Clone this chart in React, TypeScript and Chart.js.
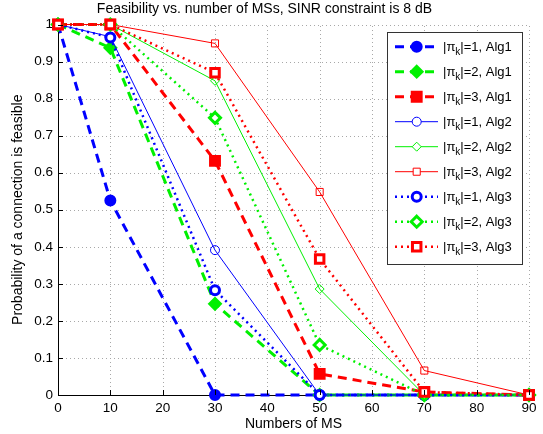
import React, { useEffect, useRef } from "react";
import { Chart, registerables } from "chart.js";

Chart.register(...registerables);

const titleText = "Feasibility vs. number of MSs, SINR constraint is 8 dB";
const xAxisLabel = "Numbers of MS";
const yAxisLabel = "Probability of a connection is feasible";

const numberOfMS = [0, 10, 30, 50, 70, 90];
const xTicks = [0, 10, 20, 30, 40, 50, 60, 70, 80, 90];
const yTicks = [0, 0.1, 0.2, 0.3, 0.4, 0.5, 0.6, 0.7, 0.8, 0.9, 1];

const alg1K1 = [1, 0.525, 0, 0, 0, 0];
const alg1K2 = [1, 0.937, 0.246, 0, 0, 0];
const alg1K3 = [1, 1, 0.632, 0.057, 0.008, 0];
const alg2K1 = [1, 0.967, 0.391, 0, 0, 0];
const alg2K2 = [1, 1, 0.848, 0.286, 0, 0];
const alg2K3 = [1, 1, 0.949, 0.548, 0.066, 0];
const alg3K1 = [1, 0.965, 0.283, 0, 0, 0];
const alg3K2 = [1, 1, 0.748, 0.135, 0, 0];
const alg3K3 = [1, 1, 0.87, 0.367, 0.008, 0];

const seriesValues = [alg1K1, alg1K2, alg1K3, alg2K1, alg2K2, alg2K3, alg3K1, alg3K2, alg3K3];
const seriesK = [1, 2, 3, 1, 2, 3, 1, 2, 3];
const seriesAlg = ["Alg1", "Alg1", "Alg1", "Alg2", "Alg2", "Alg2", "Alg3", "Alg3", "Alg3"];

const FONT = "'Liberation Sans', Arial, Helvetica, sans-serif";
const colorByK: Record<number, string> = { 1: "#0000ff", 2: "#00f000", 3: "#ff0000" };
const markerByK: Record<number, string> = { 1: "circle", 2: "rectRot", 3: "rect" };

function styleFor(alg: string, k: number) {
  const color = colorByK[k];
  const pointStyle = markerByK[k];
  if (alg === "Alg1") {
    return {
      borderWidth: 3,
      borderDash: [9, 6],
      pointRadius: k === 3 ? 7 : k === 2 ? 6 : 5,
      pointBorderWidth: 2,
      pointBackgroundColor: color,
      color,
      pointStyle,
    };
  }
  if (alg === "Alg2") {
    return {
      borderWidth: 1,
      borderDash: [] as number[],
      pointRadius: k === 3 ? 5 : 4.5,
      pointBorderWidth: 1,
      pointBackgroundColor: "rgba(255,255,255,0)",
      color,
      pointStyle,
    };
  }
  return {
    borderWidth: 2.5,
    borderDash: [2, 4],
    pointRadius: k === 3 ? 6 : k === 2 ? 5.5 : 4.5,
    pointBorderWidth: 3,
    pointBackgroundColor: "#ffffff",
    color,
    pointStyle,
  };
}

function drawMarker(ctx: CanvasRenderingContext2D, style: string, x: number, y: number, r: number, fill: string, stroke: string, lw: number) {
  ctx.save();
  ctx.setLineDash([]);
  ctx.beginPath();
  if (style === "circle") {
    ctx.arc(x, y, r, 0, Math.PI * 2);
  } else if (style === "rectRot") {
    ctx.moveTo(x, y - r);
    ctx.lineTo(x + r, y);
    ctx.lineTo(x, y + r);
    ctx.lineTo(x - r, y);
  } else {
    const h = r / Math.SQRT2;
    ctx.rect(x - h, y - h, 2 * h, 2 * h);
  }
  ctx.closePath();
  ctx.fillStyle = fill;
  ctx.fill();
  ctx.lineWidth = lw;
  ctx.strokeStyle = stroke;
  ctx.stroke();
  ctx.restore();
}

const dottedGridPlugin = {
  id: "dottedGrid",
  beforeDatasetsDraw(chart: any) {
    const { ctx, chartArea, scales } = chart;
    ctx.save();
    ctx.strokeStyle = "#a8a8a8";
    ctx.lineWidth = 1;
    ctx.setLineDash([1, 3]);
    xTicks.forEach((t) => {
      if (t === 0) return;
      const x = Math.round(scales.x.getPixelForValue(t)) + 0.5;
      ctx.beginPath();
      ctx.moveTo(x, chartArea.bottom);
      ctx.lineTo(x, chartArea.top);
      ctx.stroke();
    });
    yTicks.forEach((t) => {
      if (t === 0) return;
      const y = Math.round(scales.y.getPixelForValue(t)) + 0.5;
      ctx.beginPath();
      ctx.moveTo(chartArea.left, y);
      ctx.lineTo(chartArea.right, y);
      ctx.stroke();
    });
    ctx.restore();
  },
};

const innerTicksPlugin = {
  id: "innerTicks",
  afterDatasetsDraw(chart: any) {
    const { ctx, chartArea, scales } = chart;
    ctx.save();
    ctx.strokeStyle = "#000";
    ctx.lineWidth = 1;
    ctx.setLineDash([]);
    xTicks.forEach((t) => {
      const x = Math.round(scales.x.getPixelForValue(t)) + 0.5;
      ctx.beginPath();
      ctx.moveTo(x, chartArea.bottom);
      ctx.lineTo(x, chartArea.bottom - 5);
      ctx.stroke();
    });
    yTicks.forEach((t) => {
      const y = Math.round(scales.y.getPixelForValue(t)) + 0.5;
      ctx.beginPath();
      ctx.moveTo(chartArea.left, y);
      ctx.lineTo(chartArea.left + 5, y);
      ctx.stroke();
    });
    ctx.restore();
  },
};

const legendPlugin = {
  id: "matlabLegend",
  afterDraw(chart: any) {
    const { ctx, chartArea } = chart;
    const boxW = 135;
    const boxH = 232;
    const right = chartArea.right - 7;
    const left = right - boxW;
    const top = chartArea.top + 7.5;
    ctx.save();
    ctx.fillStyle = "#ffffff";
    ctx.fillRect(left, top, boxW, boxH);
    ctx.strokeStyle = "#333333";
    ctx.lineWidth = 1;
    ctx.setLineDash([]);
    ctx.strokeRect(Math.round(left) + 0.5, Math.round(top) + 0.5, boxW, boxH);

    chart.data.datasets.forEach((ds: any, i: number) => {
      const k = seriesK[i];
      const alg = seriesAlg[i];
      const st = styleFor(alg, k);
      const cy = top + 14.7 + i * 25;
      const x1 = left + 8;
      const x2 = left + 51;
      const mx = left + 29.7;
      ctx.save();
      ctx.strokeStyle = st.color;
      ctx.lineWidth = st.borderWidth;
      ctx.setLineDash(st.borderDash);
      ctx.beginPath();
      ctx.moveTo(x1, cy);
      ctx.lineTo(x2, cy);
      ctx.stroke();
      ctx.restore();
      drawMarker(ctx, st.pointStyle, mx, cy, st.pointRadius, st.pointBackgroundColor === "rgba(255,255,255,0)" ? "#ffffff" : st.pointBackgroundColor, st.color, st.pointBorderWidth);

      ctx.fillStyle = "#000";
      ctx.textBaseline = "alphabetic";
      ctx.textAlign = "left";
      let tx = left + 56;
      const base = cy + 4.5;
      ctx.font = `13px ${FONT}`;
      const a = "|\u03c0";
      ctx.fillText(a, tx, base);
      tx += ctx.measureText(a).width;
      ctx.font = `10px ${FONT}`;
      ctx.fillText("k", tx, base + 4);
      tx += ctx.measureText("k").width;
      ctx.font = `13px ${FONT}`;
      ctx.fillText(`|=${k}, ${alg}`, tx, base);
    });
    ctx.restore();
  },
};

export default function App() {
  const canvasRef = useRef<HTMLCanvasElement | null>(null);

  useEffect(() => {
    document.body.style.margin = "0";
    const canvas = canvasRef.current;
    if (!canvas) return;

    const datasets = seriesValues.map((vals, i) => {
      const st = styleFor(seriesAlg[i], seriesK[i]);
      return {
        label: `|\u03c0k|=${seriesK[i]}, ${seriesAlg[i]}`,
        data: numberOfMS.map((x, j) => ({ x, y: vals[j] })),
        borderColor: st.color,
        backgroundColor: st.color,
        borderWidth: st.borderWidth,
        borderDash: st.borderDash,
        pointStyle: st.pointStyle,
        pointRadius: st.pointRadius,
        pointBorderWidth: st.pointBorderWidth,
        pointBorderColor: st.color,
        pointBackgroundColor: st.pointBackgroundColor,
        tension: 0,
        fill: false,
        clip: false as any,
        order: 9 - i,
      };
    });

    const chart = new Chart(canvas, {
      type: "line",
      data: { datasets },
      options: {
        responsive: false,
        animation: false,
        devicePixelRatio: 1,
        layout: { padding: { left: 0, right: 14, top: 0, bottom: 0 } },
        plugins: {
          legend: { display: false },
          tooltip: { enabled: false },
          title: {
            display: true,
            text: titleText,
            color: "#000",
            font: { family: FONT, size: 14, weight: "normal" },
            padding: { top: 1, bottom: 6.7 },
          },
        },
        scales: {
          x: {
            type: "linear",
            min: 0,
            max: 90,
            afterFit: (scale: any) => {
              scale.height = 39;
            },
            afterBuildTicks: (scale: any) => {
              scale.ticks = xTicks.map((v) => ({ value: v }));
            },
            ticks: {
              color: "#000",
              font: { family: FONT, size: 13.5 },
              padding: 5,
              maxRotation: 0,
            },
            grid: {
              color: "rgba(0,0,0,0)",
              drawTicks: false,
            },
            border: { display: true, color: "#000", width: 1 },
            title: {
              display: true,
              text: xAxisLabel,
              color: "#000",
              font: { family: FONT, size: 14 },
              padding: { top: 0, bottom: 1 },
            },
          },
          y: {
            type: "linear",
            min: 0,
            max: 1,
            afterFit: (scale: any) => {
              scale.width = 58;
            },
            afterBuildTicks: (scale: any) => {
              scale.ticks = yTicks.map((v) => ({ value: v }));
            },
            ticks: {
              color: "#000",
              font: { family: FONT, size: 13.5 },
              padding: 5,
              callback: (v: any) => String(Number(Number(v).toFixed(1))),
            },
            grid: {
              color: "rgba(0,0,0,0)",
              drawTicks: false,
            },
            border: { display: true, color: "#000", width: 1 },
            title: {
              display: true,
              text: yAxisLabel,
              color: "#000",
              font: { family: FONT, size: 14 },
              padding: { top: 10, bottom: 0 },
            },
          },
        },
      },
      plugins: [dottedGridPlugin, innerTicksPlugin, legendPlugin],
    });

    return () => chart.destroy();
  }, []);

  return (
    <div style={{ width: 543, height: 434 }}>
      <canvas ref={canvasRef} width={543} height={434} />
    </div>
  );
}
